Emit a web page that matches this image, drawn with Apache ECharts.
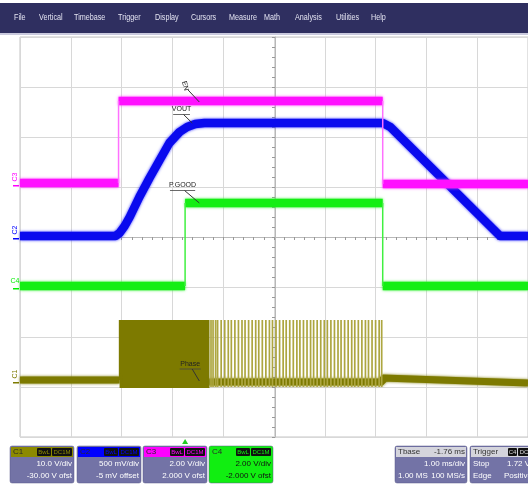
<!DOCTYPE html>
<html><head><meta charset="utf-8">
<script src="https://cdn.jsdelivr.net/npm/echarts@6/dist/echarts.min.js"></script>
<style>html,body{margin:0;padding:0;background:#fff;}#c{width:528px;height:485px;}</style>
</head><body><div id="c"></div>
<script>
// ---------- data (time in divisions = ms from left edge, amplitude in divisions from centre) ----------
const menuItems = ['File','Vertical','Timebase','Trigger','Display','Cursors','Measure','Math','Analysis','Utilities','Help'];
// EN (C3, magenta) : step trace
const enEdges  = [1.94, 7.14];
const enLevels = [1.08, 2.72, 1.06];
// P.GOOD (C4, green)
const pgEdges  = [3.25, 7.14];
const pgLevels = [-0.98, 0.68, -0.98];
// VOUT (C2, blue)
const voutT = [0, 1.88, 1.96, 2.06, 2.16, 2.35, 2.55, 2.75, 2.94, 3.14, 3.29, 3.45, 3.63, 7.14, 7.29, 9.45, 10];
const voutV = [0.02, 0.02, 0.08, 0.22, 0.40, 0.80, 1.18, 1.54, 1.88, 2.10, 2.20, 2.26, 2.28, 2.28, 2.20, 0.02, 0.02];
// Phase (C1, olive)
const phaseBaseT = [0, 1.96, 3.73, 7.14, 7.14, 10];
const phaseBaseV = [-2.86, -2.86, -2.90, -2.90, -2.82, -2.92];
const phaseBlock = {start: 1.96, end: 3.73, top: -1.66, bottom: -3.02};
const pulseTimes = [3.76,3.80,3.85,3.89,3.96,4.03,4.10,4.16,4.23,4.30,4.37,4.43,4.50,4.57,4.64,4.70,4.77,4.84,4.91,4.97,5.04,5.11,5.18,5.24,5.31,5.38,5.45,5.51,5.58,5.65,5.72,5.78,5.85,5.92,5.99,6.05,6.12,6.19,6.26,6.32,6.39,6.46,6.53,6.59,6.66,6.73,6.80,6.86,6.93,7.00,7.07,7.12];
const pulseTop = -1.66, pulseBottom = -3.0;
// channel marker levels (left edge)
const chanLabels = [
  {name:'C3', level:1.08, color:'#ff00ff', rot:true},
  {name:'C2', level:0.02, color:'#0000ff', rot:true},
  {name:'C4', level:-0.98, color:'#00ee00', rot:false},
  {name:'C1', level:-2.86, color:'#7d7a00', rot:true}
];
// annotations : text, text anchor (data), leader line end (data)
const notes = [
  {text:'EN',     at:[3.25, 3.02], to:[3.53, 2.70], rot:true},
  {text:'VOUT',   at:[3.18, 2.55], to:[3.39, 2.28], rot:false},
  {text:'P.GOOD', at:[3.20, 1.03], to:[3.53, 0.68], rot:false},
  {text:'Phase',  at:[3.35, -2.54], to:[3.53, -2.88], rot:false}
];
// bottom info panels
const chPanels = [
  {label:'C1', hdr:'#8c8a00', body:'#7373a6', txt:'#ffffff', lines:['10.0 V/div','-30.00 V ofst']},
  {label:'C2', hdr:'#0000ff', body:'#7373a6', txt:'#ffffff', lines:['500 mV/div','-5 mV offset']},
  {label:'C3', hdr:'#ff00ff', body:'#7373a6', txt:'#ffffff', lines:['2.00 V/div','2.000 V ofst']},
  {label:'C4', hdr:'#11ee11', body:'#11ee11', txt:'#111111', lines:['2.00 V/div','-2.000 V ofst']}
];
const tbase = {title:'Tbase', delay:'-1.76 ms', perDiv:'1.00 ms/div', samples:'1.00 MS', rate:'100 MS/s'};
const trig  = {title:'Trigger', src:'C4', cpl:'DC', mode:'Stop', level:'1.72 V', type:'Edge', slope:'Positive'};
const triggerPos = 3.25;

// ---------- layout constants ----------
const G = {left:20, top:37, width:510, height:400};
const menuX = [14,39,74,118,155,191,229,264,295,336,371];
const panelX = [10,77,143,209], panelW = 64, panelY = 446, panelH = 37, hdrH = 11;
const FONT = '"Liberation Sans", Arial, sans-serif';

// ---------- build series data ----------
function stepLevels(edges, levels){
  const out=[]; 
  for(let i=0;i<levels.length;i++){
    const s = i===0?0:edges[i-1], e = i===levels.length-1?10:edges[i];
    out.push([s,levels[i]],[e,levels[i]],'-');
  }
  return out;
}
function stepEdges(edges, levels){
  const out=[];
  edges.forEach((t,i)=>{ out.push([t,levels[i]],[t,levels[i+1]],'-'); });
  return out;
}
const voutData = voutT.map((t,i)=>[t,voutV[i]]);
const phaseBaseData = [];
for(let i=0;i<phaseBaseT.length;i++){
  phaseBaseData.push([phaseBaseT[i],phaseBaseV[i]]);
  if(i===1){ phaseBaseData.push('-'); }
}
const pulseData = [];
pulseTimes.forEach(t=>{ pulseData.push([t,pulseBottom],[t,pulseTop],'-'); });
const blockEdge = [[phaseBlock.start,-2.86],[phaseBlock.start,phaseBlock.top]];

const chart = echarts.init(document.getElementById('c'), null, {renderer:'canvas'});

const baseAxis = {min:0,max:10,interval:1,axisLabel:{show:false},axisTick:{show:false},axisLine:{show:false},
  splitLine:{show:true,lineStyle:{color:'#d8d8d8',width:1}}};
const centreAxis = {axisLabel:{show:false},splitLine:{show:false},
  axisLine:{show:true,lineStyle:{color:'#b8b8b8',width:1}},
  axisTick:{show:true,inside:true,length:3,lineStyle:{color:'#999'}},
  minorTick:{show:true,splitNumber:5,length:3,lineStyle:{color:'#999'}}};
const fuzz = c => ({shadowBlur:3, shadowColor:c});

const option = {
  animation:false,
  backgroundColor:'#ffffff',
  grid:{left:G.left, top:G.top, width:G.width, height:G.height, show:true, borderColor:'#c4c4c4', borderWidth:1, backgroundColor:'#ffffff'},
  xAxis:[
    Object.assign({type:'value', position:'bottom'}, baseAxis),
    Object.assign({type:'value', position:'top', offset:-G.height/2, min:0, max:10, interval:1}, centreAxis)
  ],
  yAxis:[
    Object.assign({type:'value', position:'left'}, baseAxis, {min:-4,max:4,interval:1}),
    Object.assign({type:'value', position:'right', offset:-G.width/2, min:-4, max:4, interval:1}, centreAxis)
  ],
  series:[
    {type:'line', name:'PhaseBase', data:phaseBaseData, symbol:'none', connectNulls:false,
      lineStyle:Object.assign({color:'#7d7a00', width:7}, fuzz('#7d7a00')), z:2,
      markArea:{silent:true, itemStyle:{color:'#7d7a00', opacity:1},
        data:[[{coord:[phaseBlock.start, phaseBlock.bottom]},{coord:[phaseBlock.end, phaseBlock.top]}]]}},
    {type:'line', name:'PhasePulses', data:pulseData, symbol:'none', connectNulls:false,
      lineStyle:{color:'#ada640', width:1.7}, z:2},
    {type:'line', name:'PhaseEdge', data:blockEdge, symbol:'none', lineStyle:{color:'#7d7a00', width:1.5}, z:2},
    {type:'line', name:'VOUT', data:voutData, symbol:'none', lineStyle:Object.assign({color:'#0a0aee', width:8.5, join:'round'}, fuzz('#3030ff')), z:3},
    {type:'line', name:'EN', data:stepLevels(enEdges,enLevels), symbol:'none', connectNulls:false,
      lineStyle:Object.assign({color:'#ff10ff', width:8.5}, fuzz('#ff40ff')), z:4},
    {type:'line', name:'ENedge', data:stepEdges(enEdges,enLevels), symbol:'none', connectNulls:false,
      lineStyle:{color:'#ff70ff', width:1.5}, z:4},
    {type:'line', name:'PG', data:stepLevels(pgEdges,pgLevels), symbol:'none', connectNulls:false,
      lineStyle:Object.assign({color:'#14ee14', width:8.5}, fuzz('#40f040')), z:5},
    {type:'line', name:'PGedge', data:stepEdges(pgEdges,pgLevels), symbol:'none', connectNulls:false,
      lineStyle:{color:'#40f040', width:1.5}, z:5}
  ]
};
chart.setOption(option);

// ---------- chrome / annotations ----------
const px = p => chart.convertToPixel({xAxisIndex:0, yAxisIndex:0}, p);
const g = [];
// menu bar
g.push({type:'rect', shape:{x:0,y:3,width:528,height:30}, style:{fill:'#2f2f60'}, z:10});
g.push({type:'rect', shape:{x:0,y:33,width:528,height:2}, style:{fill:'#c9c9dd'}, z:10});
menuItems.forEach((m,i)=>g.push({type:'text', x:menuX[i], y:18, scaleX:0.8, style:{text:m, fill:'#e4e4f2', font:'9px '+FONT, textVerticalAlign:'middle'}, z:11}));

// channel markers on the left
chanLabels.forEach(c=>{
  const p = px([0,c.level]);
  g.push({type:'rect', shape:{x:13,y:p[1]+2,width:6,height:1.5}, style:{fill:c.color}, z:11});
  if(c.rot){
    g.push({type:'text', x:15, y:p[1]-6, rotation:Math.PI/2, style:{text:c.name, fill:c.color, font:'7px '+FONT, textAlign:'center', textVerticalAlign:'middle'}, z:11});
  } else {
    g.push({type:'text', x:15, y:p[1]-5, style:{text:c.name, fill:c.color, font:'7px '+FONT, textAlign:'center', textVerticalAlign:'middle'}, z:11});
  }
});
// annotations
notes.forEach(n=>{
  const a = px(n.at), b = px(n.to);
  if(n.rot){
    g.push({type:'text', x:a[0], y:a[1], rotation:-Math.PI*0.42, style:{text:n.text, fill:'#222', font:'7px '+FONT, textAlign:'center', textVerticalAlign:'middle'}, z:12});
    g.push({type:'line', shape:{x1:a[0]+3,y1:a[1]+4,x2:b[0],y2:b[1]}, style:{stroke:'#333', lineWidth:1}, z:12});
  } else {
    const w = n.text.length*4.2;
    g.push({type:'text', x:a[0], y:a[1], style:{text:n.text, fill:'#222', font:'7px '+FONT, textAlign:'center', textVerticalAlign:'middle'}, z:12});
    g.push({type:'line', shape:{x1:a[0]-w/2,y1:a[1]+5,x2:a[0]+w/2,y2:a[1]+5}, style:{stroke:'#444', lineWidth:0.8}, z:12});
    g.push({type:'line', shape:{x1:a[0]+2,y1:a[1]+5,x2:b[0],y2:b[1]}, style:{stroke:'#333', lineWidth:1}, z:12});
  }
});
// trigger position marker
const tp = px([triggerPos,-4]);
g.push({type:'polygon', shape:{points:[[tp[0]-3,tp[1]+7],[tp[0]+3,tp[1]+7],[tp[0],tp[1]+2]]}, style:{fill:'#22cc22'}, z:11});

// channel panels
chPanels.forEach((c,i)=>{
  const x = panelX[i];
  g.push({type:'rect', shape:{x:x,y:panelY,width:panelW,height:panelH,r:2}, style:{fill:c.body, stroke:'#5a5a88', lineWidth:0.5}, z:10});
  g.push({type:'rect', shape:{x:x+1,y:panelY+1,width:panelW-2,height:hdrH-1}, style:{fill:c.hdr}, z:10});
  g.push({type:'text', x:x+3, y:panelY+6, style:{text:c.label, fill:'#2a2a2a', font:'8px '+FONT, textVerticalAlign:'middle'}, z:11});
  g.push({type:'rect', shape:{x:x+27,y:panelY+2,width:14,height:8,r:1}, style:{fill:'#111'}, z:11});
  g.push({type:'text', x:x+34, y:panelY+6, style:{text:'BwL', fill:c.hdr, font:'6px '+FONT, textAlign:'center', textVerticalAlign:'middle'}, z:12});
  g.push({type:'rect', shape:{x:x+42,y:panelY+2,width:20,height:8,r:1}, style:{fill:'#111'}, z:11});
  g.push({type:'text', x:x+52, y:panelY+6, style:{text:'DC1M', fill:c.hdr, font:'6px '+FONT, textAlign:'center', textVerticalAlign:'middle'}, z:12});
  g.push({type:'text', x:x+panelW-2, y:panelY+18, style:{text:c.lines[0], fill:c.txt, font:'8px '+FONT, textAlign:'right', textVerticalAlign:'middle'}, z:11});
  g.push({type:'text', x:x+panelW-2, y:panelY+30, style:{text:c.lines[1], fill:c.txt, font:'8px '+FONT, textAlign:'right', textVerticalAlign:'middle'}, z:11});
});
// timebase panel
(function(){
  const x=395,w=72;
  g.push({type:'rect', shape:{x:x,y:panelY,width:w,height:panelH,r:2}, style:{fill:'#7373a6', stroke:'#5a5a88', lineWidth:0.5}, z:10});
  g.push({type:'rect', shape:{x:x+1,y:panelY+1,width:w-2,height:hdrH-1}, style:{fill:'#d4d4dc'}, z:10});
  g.push({type:'text', x:x+3, y:panelY+6, style:{text:tbase.title, fill:'#333', font:'8px '+FONT, textVerticalAlign:'middle'}, z:11});
  g.push({type:'text', x:x+w-2, y:panelY+6, style:{text:tbase.delay, fill:'#333', font:'8px '+FONT, textAlign:'right', textVerticalAlign:'middle'}, z:11});
  g.push({type:'text', x:x+w-2, y:panelY+18, style:{text:tbase.perDiv, fill:'#fff', font:'8px '+FONT, textAlign:'right', textVerticalAlign:'middle'}, z:11});
  g.push({type:'text', x:x+3, y:panelY+30, style:{text:tbase.samples, fill:'#fff', font:'8px '+FONT, textVerticalAlign:'middle'}, z:11});
  g.push({type:'text', x:x+w-2, y:panelY+30, style:{text:tbase.rate, fill:'#fff', font:'8px '+FONT, textAlign:'right', textVerticalAlign:'middle'}, z:11});
})();
// trigger panel
(function(){
  const x=470,w=64;
  g.push({type:'rect', shape:{x:x,y:panelY,width:w,height:panelH,r:2}, style:{fill:'#7373a6', stroke:'#5a5a88', lineWidth:0.5}, z:10});
  g.push({type:'rect', shape:{x:x+1,y:panelY+1,width:w-2,height:hdrH-1}, style:{fill:'#d4d4dc'}, z:10});
  g.push({type:'text', x:x+3, y:panelY+6, style:{text:trig.title, fill:'#333', font:'8px '+FONT, textVerticalAlign:'middle'}, z:11});
  g.push({type:'rect', shape:{x:x+38,y:panelY+2,width:9,height:8,r:1}, style:{fill:'#111'}, z:11});
  g.push({type:'text', x:x+42.5, y:panelY+6, style:{text:trig.src, fill:'#ddd', font:'6px '+FONT, textAlign:'center', textVerticalAlign:'middle'}, z:12});
  g.push({type:'rect', shape:{x:x+48,y:panelY+2,width:12,height:8,r:1}, style:{fill:'#111'}, z:11});
  g.push({type:'text', x:x+54, y:panelY+6, style:{text:trig.cpl, fill:'#ddd', font:'6px '+FONT, textAlign:'center', textVerticalAlign:'middle'}, z:12});
  g.push({type:'text', x:x+3, y:panelY+18, style:{text:trig.mode, fill:'#fff', font:'8px '+FONT, textVerticalAlign:'middle'}, z:11});
  g.push({type:'text', x:x+37, y:panelY+18, style:{text:trig.level, fill:'#fff', font:'8px '+FONT, textVerticalAlign:'middle'}, z:11});
  g.push({type:'text', x:x+3, y:panelY+30, style:{text:trig.type, fill:'#fff', font:'8px '+FONT, textVerticalAlign:'middle'}, z:11});
  g.push({type:'text', x:x+34, y:panelY+30, style:{text:trig.slope, fill:'#fff', font:'8px '+FONT, textVerticalAlign:'middle'}, z:11});
})();
chart.setOption({graphic:{elements:g}});
</script>
</body></html>
